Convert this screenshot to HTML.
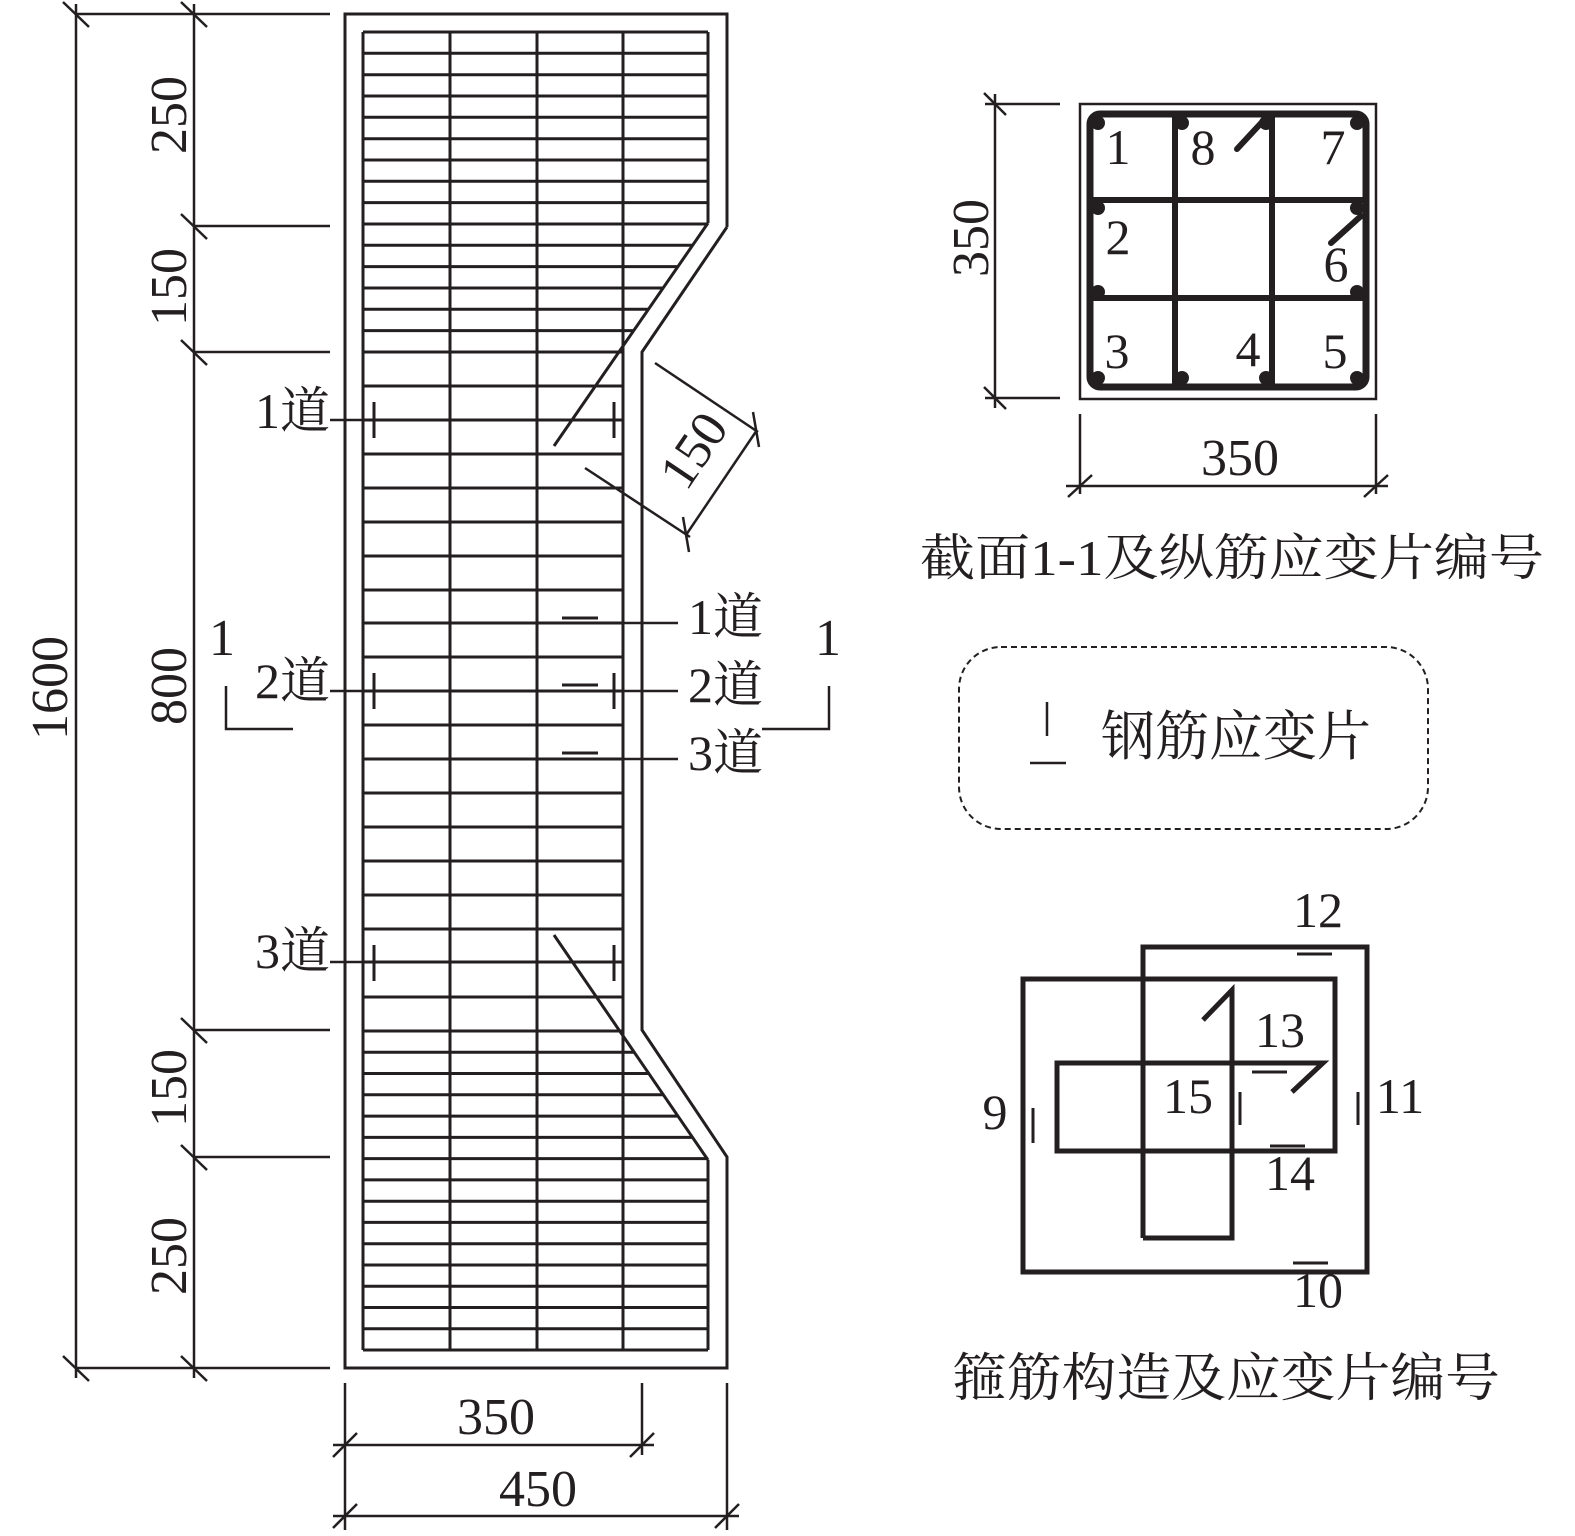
<!DOCTYPE html>
<html><head><meta charset="utf-8"><style>
html,body{margin:0;padding:0;background:#fff;}
svg{display:block;}
text{font-family:"Liberation Serif","Noto Serif CJK SC",serif;fill:#231f20;}
.cj{font-family:"Liberation Serif","Noto Serif CJK SC","Noto Sans CJK SC",serif;}
</style></head><body>
<svg xmlns="http://www.w3.org/2000/svg" width="1575" height="1536" viewBox="0 0 1575 1536">
<g stroke="#231f20" fill="none" stroke-linecap="butt">
<polyline stroke-width="3" points="727,227 727,14 345,14 345,1368 727,1368 727,1157 642,1030 642,352 727,227"/>
<g stroke-width="3">
<line x1="363" y1="32" x2="363" y2="1350"/>
<line x1="450" y1="32" x2="450" y2="1350"/>
<line x1="537" y1="32" x2="537" y2="1350"/>
<line x1="623" y1="32" x2="623" y2="1350"/>
<line x1="708" y1="32" x2="708" y2="223"/>
<line x1="708" y1="1160" x2="708" y2="1350"/>
<line x1="708" y1="223" x2="554" y2="446"/>
<line x1="554" y1="935" x2="708" y2="1160"/>
</g>
<g stroke-width="3">
<line x1="363" y1="32" x2="708" y2="32"/>
<line x1="363" y1="53.3" x2="708" y2="53.3"/>
<line x1="363" y1="74.7" x2="708" y2="74.7"/>
<line x1="363" y1="96" x2="708" y2="96"/>
<line x1="363" y1="117.3" x2="708" y2="117.3"/>
<line x1="363" y1="138.7" x2="708" y2="138.7"/>
<line x1="363" y1="160" x2="708" y2="160"/>
<line x1="363" y1="181.3" x2="708" y2="181.3"/>
<line x1="363" y1="202.6" x2="708" y2="202.6"/>
<line x1="363" y1="224" x2="707.3" y2="224"/>
<line x1="363" y1="245.3" x2="692.6" y2="245.3"/>
<line x1="363" y1="266.6" x2="677.9" y2="266.6"/>
<line x1="363" y1="288" x2="663.1" y2="288"/>
<line x1="363" y1="309.3" x2="648.4" y2="309.3"/>
<line x1="363" y1="330.6" x2="633.7" y2="330.6"/>
<line x1="363" y1="352" x2="623" y2="352"/>
<line x1="363" y1="386" x2="623" y2="386"/>
<line x1="363" y1="420" x2="623" y2="420"/>
<line x1="363" y1="454" x2="623" y2="454"/>
<line x1="363" y1="488" x2="623" y2="488"/>
<line x1="363" y1="522" x2="623" y2="522"/>
<line x1="363" y1="556" x2="623" y2="556"/>
<line x1="363" y1="590" x2="623" y2="590"/>
<line x1="363" y1="623" x2="623" y2="623"/>
<line x1="363" y1="657" x2="623" y2="657"/>
<line x1="363" y1="691" x2="623" y2="691"/>
<line x1="363" y1="725" x2="623" y2="725"/>
<line x1="363" y1="759" x2="623" y2="759"/>
<line x1="363" y1="793" x2="623" y2="793"/>
<line x1="363" y1="827" x2="623" y2="827"/>
<line x1="363" y1="861" x2="623" y2="861"/>
<line x1="363" y1="895" x2="623" y2="895"/>
<line x1="363" y1="929" x2="623" y2="929"/>
<line x1="363" y1="962" x2="623" y2="962"/>
<line x1="363" y1="997" x2="623" y2="997"/>
<line x1="363" y1="1031" x2="623" y2="1031"/>
<line x1="363" y1="1052.3" x2="634.2" y2="1052.3"/>
<line x1="363" y1="1073.5" x2="648.7" y2="1073.5"/>
<line x1="363" y1="1094.8" x2="663.3" y2="1094.8"/>
<line x1="363" y1="1116.1" x2="677.9" y2="1116.1"/>
<line x1="363" y1="1137.4" x2="692.4" y2="1137.4"/>
<line x1="363" y1="1158.6" x2="708" y2="1158.6"/>
<line x1="363" y1="1179.9" x2="708" y2="1179.9"/>
<line x1="363" y1="1201.2" x2="708" y2="1201.2"/>
<line x1="363" y1="1222.4" x2="708" y2="1222.4"/>
<line x1="363" y1="1243.7" x2="708" y2="1243.7"/>
<line x1="363" y1="1265" x2="708" y2="1265"/>
<line x1="363" y1="1286.2" x2="708" y2="1286.2"/>
<line x1="363" y1="1307.5" x2="708" y2="1307.5"/>
<line x1="363" y1="1328.8" x2="708" y2="1328.8"/>
<line x1="363" y1="1350" x2="708" y2="1350"/>
</g>
<g stroke-width="2.5">
<line x1="76" y1="4" x2="76" y2="1378"/>
<line x1="194" y1="4" x2="194" y2="1378"/>
<line x1="76" y1="14" x2="330" y2="14"/>
<line x1="76" y1="1368" x2="330" y2="1368"/>
<line x1="194" y1="226" x2="330" y2="226"/>
<line x1="194" y1="352" x2="330" y2="352"/>
<line x1="194" y1="1030" x2="330" y2="1030"/>
<line x1="194" y1="1157" x2="330" y2="1157"/>
<line x1="63" y1="2" x2="89" y2="27"/>
<line x1="181" y1="2" x2="207" y2="27"/>
<line x1="181" y1="214" x2="207" y2="239"/>
<line x1="181" y1="340" x2="207" y2="365"/>
<line x1="181" y1="1018" x2="207" y2="1043"/>
<line x1="181" y1="1145" x2="207" y2="1170"/>
<line x1="63" y1="1356" x2="89" y2="1381"/>
<line x1="181" y1="1356" x2="207" y2="1381"/>
<line x1="345" y1="1383" x2="345" y2="1530"/>
<line x1="642" y1="1383" x2="642" y2="1455"/>
<line x1="727" y1="1383" x2="727" y2="1530"/>
<line x1="333" y1="1445" x2="654" y2="1445"/>
<line x1="333" y1="1516" x2="739" y2="1516"/>
<line x1="333" y1="1457" x2="357" y2="1433"/>
<line x1="630" y1="1457" x2="654" y2="1433"/>
<line x1="333" y1="1528" x2="357" y2="1504"/>
<line x1="715" y1="1528" x2="739" y2="1504"/>
<line x1="330" y1="420" x2="363" y2="420"/>
<line x1="330" y1="691" x2="363" y2="691"/>
<line x1="330" y1="962" x2="363" y2="962"/>
<line x1="623" y1="623" x2="678" y2="623"/>
<line x1="623" y1="691" x2="678" y2="691"/>
<line x1="623" y1="759" x2="678" y2="759"/>
<polyline points="226,686 226,729 293,729"/>
<polyline points="829,686 829,729 762,729"/>
<line x1="655" y1="363" x2="758" y2="432"/>
<line x1="585" y1="468" x2="690" y2="537"/>
<line x1="757" y1="430" x2="686" y2="535"/>
<line x1="753" y1="412" x2="759" y2="447"/>
<line x1="683" y1="517" x2="689" y2="552"/>
</g>
<g stroke-width="3">
<line x1="374" y1="402" x2="374" y2="438"/>
<line x1="614" y1="402" x2="614" y2="438"/>
<line x1="374" y1="673" x2="374" y2="709"/>
<line x1="614" y1="673" x2="614" y2="709"/>
<line x1="374" y1="945" x2="374" y2="981"/>
<line x1="614" y1="945" x2="614" y2="981"/>
<line x1="562" y1="618" x2="598" y2="618"/>
<line x1="562" y1="685" x2="598" y2="685"/>
<line x1="562" y1="753" x2="598" y2="753"/>
</g>

<g stroke-width="2.5">
<rect x="1080" y="104" width="296" height="295"/>
<line x1="995" y1="94" x2="995" y2="408"/>
<line x1="985" y1="104" x2="1060" y2="104"/>
<line x1="985" y1="398" x2="1060" y2="398"/>
<line x1="984" y1="93" x2="1006" y2="115"/>
<line x1="984" y1="387" x2="1006" y2="409"/>
<line x1="1080" y1="414" x2="1080" y2="494"/>
<line x1="1376" y1="414" x2="1376" y2="494"/>
<line x1="1066" y1="486" x2="1388" y2="486"/>
<line x1="1068" y1="497" x2="1092" y2="475"/>
<line x1="1364" y1="497" x2="1388" y2="475"/>
</g>
<rect x="1090" y="114" width="276" height="273" rx="10" stroke-width="7"/>
<g stroke-width="6">
<line x1="1175" y1="114" x2="1175" y2="387"/>
<line x1="1272" y1="114" x2="1272" y2="387"/>
<line x1="1090" y1="200" x2="1366" y2="200"/>
<line x1="1090" y1="298" x2="1366" y2="298"/>
<line x1="1237" y1="149" x2="1263" y2="121" stroke-linecap="round"/>
<line x1="1331" y1="243" x2="1361" y2="216" stroke-linecap="round"/>
</g>
<g fill="#231f20" stroke="none">
<circle cx="1098" cy="123" r="7"/><circle cx="1182" cy="123" r="7"/><circle cx="1266" cy="123" r="7"/><circle cx="1357" cy="123" r="7"/>
<circle cx="1098" cy="208" r="7"/><circle cx="1357" cy="208" r="7"/>
<circle cx="1098" cy="292" r="7"/><circle cx="1357" cy="292" r="7"/>
<circle cx="1098" cy="378" r="7"/><circle cx="1182" cy="378" r="7"/><circle cx="1266" cy="378" r="7"/><circle cx="1357" cy="378" r="7"/>
</g>

<rect x="959" y="647" width="469" height="182" rx="42" stroke-width="2" stroke-dasharray="6,4"/>
<g stroke-width="2.5">
<line x1="1047" y1="702" x2="1047" y2="736"/>
<line x1="1030" y1="763" x2="1066" y2="763"/>
</g>

<g stroke-width="5" stroke-linejoin="miter">
<polyline points="1143,1238 1143,947 1367,947 1367,1272 1023,1272 1023,979 1335,979 1335,1151 1057,1151 1057,1063 1323,1063 1292,1092"/>
<polyline points="1143,1238 1232,1238 1232,990 1203,1020"/>
</g>
<g stroke-width="3">
<line x1="1297" y1="954" x2="1332" y2="954"/>
<line x1="1293" y1="1263" x2="1328" y2="1263"/>
<line x1="1270" y1="1146" x2="1305" y2="1146"/>
<line x1="1252" y1="1072" x2="1287" y2="1072"/>
<line x1="1033" y1="1108" x2="1033" y2="1143"/>
<line x1="1240" y1="1092" x2="1240" y2="1125"/>
<line x1="1358" y1="1092" x2="1358" y2="1125"/>
</g>
</g>

<g font-size="52" text-anchor="middle">
<text transform="translate(186,115) rotate(-90)">250</text>
<text transform="translate(186,287) rotate(-90)">150</text>
<text transform="translate(186,686) rotate(-90)">800</text>
<text transform="translate(186,1088) rotate(-90)">150</text>
<text transform="translate(186,1256) rotate(-90)">250</text>
<text transform="translate(67,688) rotate(-90)">1600</text>
<text transform="translate(708,460) rotate(-56)">150</text>
<text x="496" y="1434">350</text>
<text x="538" y="1506">450</text>
<text x="222" y="655">1</text>
<text x="828" y="655">1</text>
<text transform="translate(988,238) rotate(-90)">350</text>
<text x="1240" y="475">350</text>
</g>
<g font-size="50" text-anchor="middle">
<text x="1118" y="164">1</text>
<text x="1203" y="164">8</text>
<text x="1333" y="164">7</text>
<text x="1118" y="254">2</text>
<text x="1336" y="281">6</text>
<text x="1117" y="368">3</text>
<text x="1248" y="366">4</text>
<text x="1335" y="368">5</text>
<text x="1318" y="927">12</text>
<text x="1280" y="1047">13</text>
<text x="1188" y="1113">15</text>
<text x="1290" y="1190">14</text>
<text x="995" y="1129">9</text>
<text x="1400" y="1113">11</text>
<text x="1318" y="1307">10</text>
</g>
<g font-size="50" class="cj">
<text x="255" y="428">1道</text>
<text x="255" y="698">2道</text>
<text x="255" y="968">3道</text>
<text x="688" y="634">1道</text>
<text x="688" y="702">2道</text>
<text x="688" y="770">3道</text>
</g>
<text class="cj" x="1232" y="575" font-size="50" text-anchor="middle" textLength="624" lengthAdjust="spacingAndGlyphs">截面1-1及纵筋应变片编号</text>
<text class="cj" x="1236" y="755" font-size="54" text-anchor="middle" textLength="270" lengthAdjust="spacingAndGlyphs">钢筋应变片</text>
<text class="cj" x="1226" y="1396" font-size="52" text-anchor="middle" textLength="548" lengthAdjust="spacingAndGlyphs">箍筋构造及应变片编号</text>
</svg>
</body></html>
